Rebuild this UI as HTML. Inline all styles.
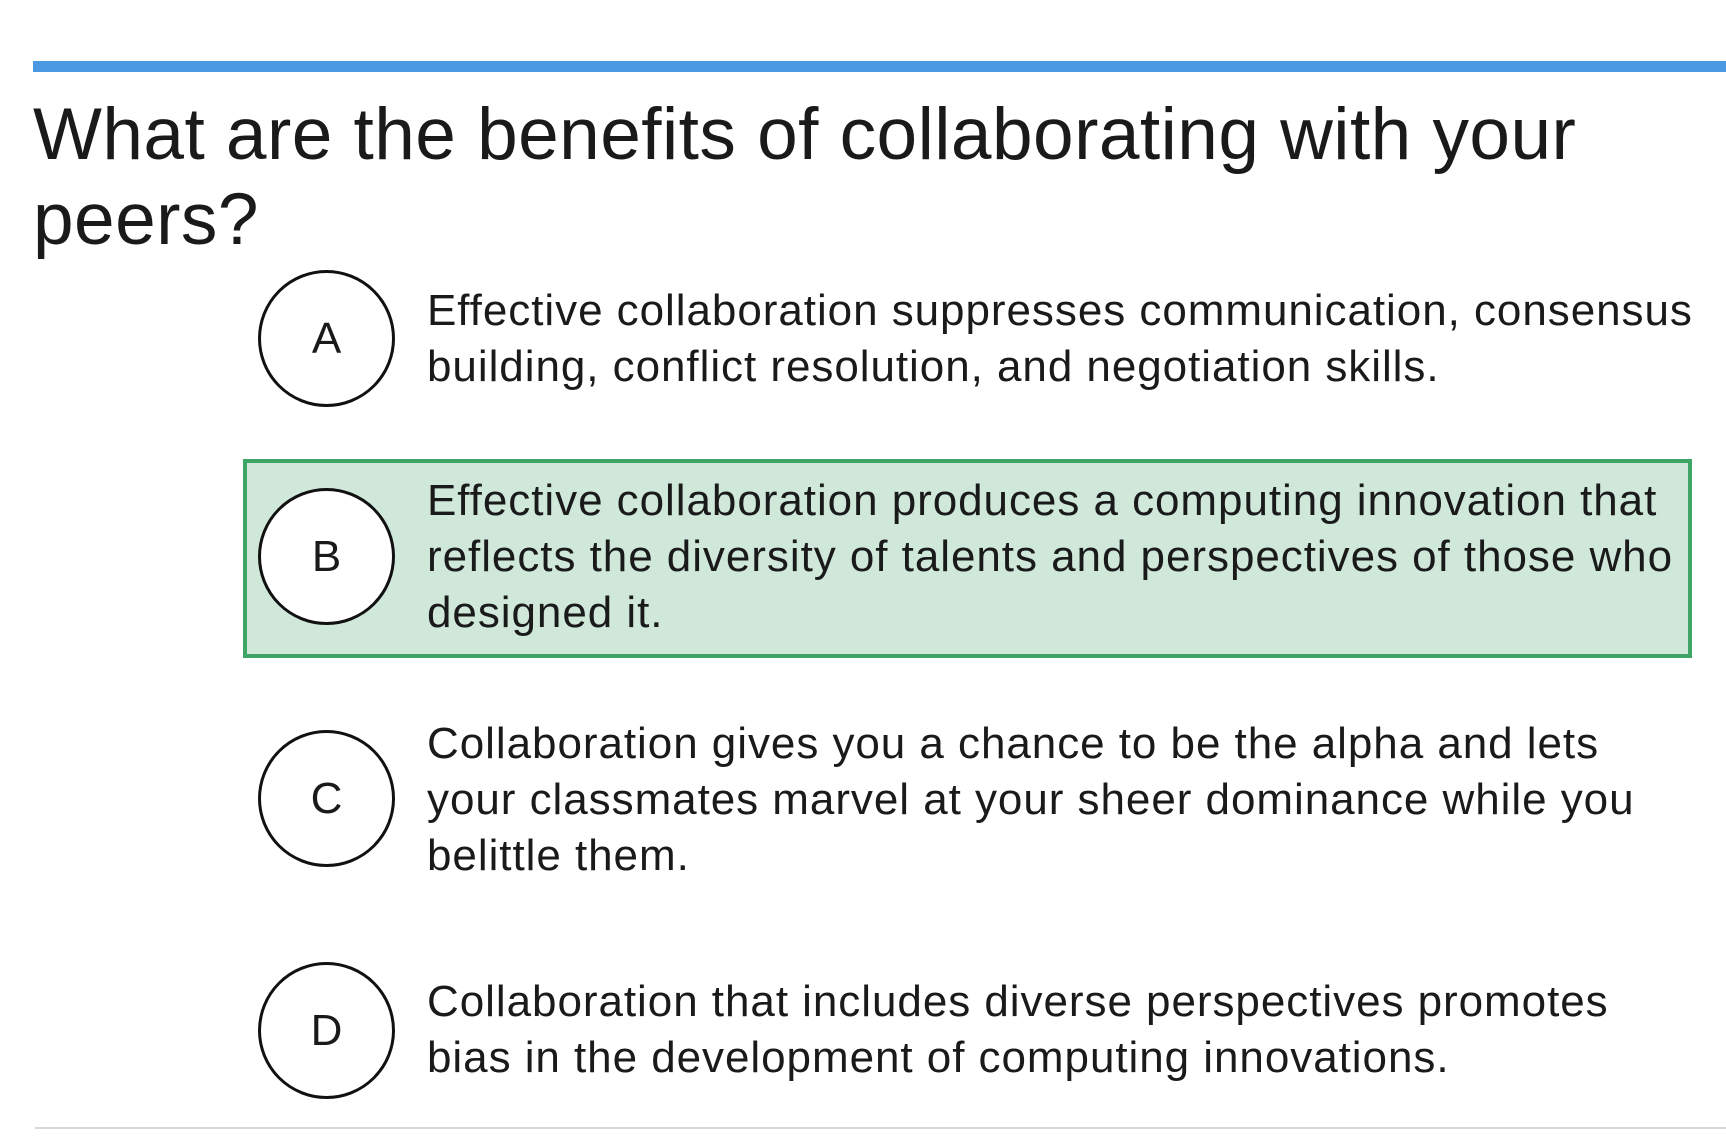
<!DOCTYPE html>
<html><head><meta charset="utf-8"><style>
body{margin:0;width:1726px;height:1144px;background:#fff;position:relative;overflow:hidden;font-family:"Liberation Sans",Arial,sans-serif;color:#1a1a1a}
.abs{position:absolute}
.circle{position:absolute;width:131px;height:131px;border:3px solid #111;border-radius:50%;background:#fff;left:258px;text-align:center;line-height:131px;font-size:44px}
.txt{position:absolute;left:427px;font-size:44px;line-height:56px;white-space:nowrap;letter-spacing:0.95px}
</style></head><body>
<div class="abs" style="left:33px;top:61px;width:1693px;height:11px;background:#4a98e2"></div>
<div class="abs" style="left:33px;top:92px;font-size:73px;line-height:85px;letter-spacing:0.45px">What are the benefits of collaborating with your<br>peers?</div>

<div class="abs" style="left:243px;top:459px;width:1441px;height:191px;background:#cfe8d9;border:4px solid #3ea567"></div>

<div class="circle" style="top:270px">A</div>
<div class="txt" style="top:283px">Effective collaboration suppresses communication, consensus<br>building, conflict resolution, and negotiation skills.</div>

<div class="circle" style="top:488px">B</div>
<div class="txt" style="top:473px">Effective collaboration produces a computing innovation that<br>reflects the diversity of talents and perspectives of those who<br>designed it.</div>

<div class="circle" style="top:730px">C</div>
<div class="txt" style="top:716px">Collaboration gives you a chance to be the alpha and lets<br>your classmates marvel at your sheer dominance while you<br>belittle them.</div>

<div class="circle" style="top:962px">D</div>
<div class="txt" style="top:974px">Collaboration that includes diverse perspectives promotes<br>bias in the development of computing innovations.</div>

<div class="abs" style="left:35px;top:1127px;width:1691px;height:2px;background:#d8d8d8"></div>
</body></html>
